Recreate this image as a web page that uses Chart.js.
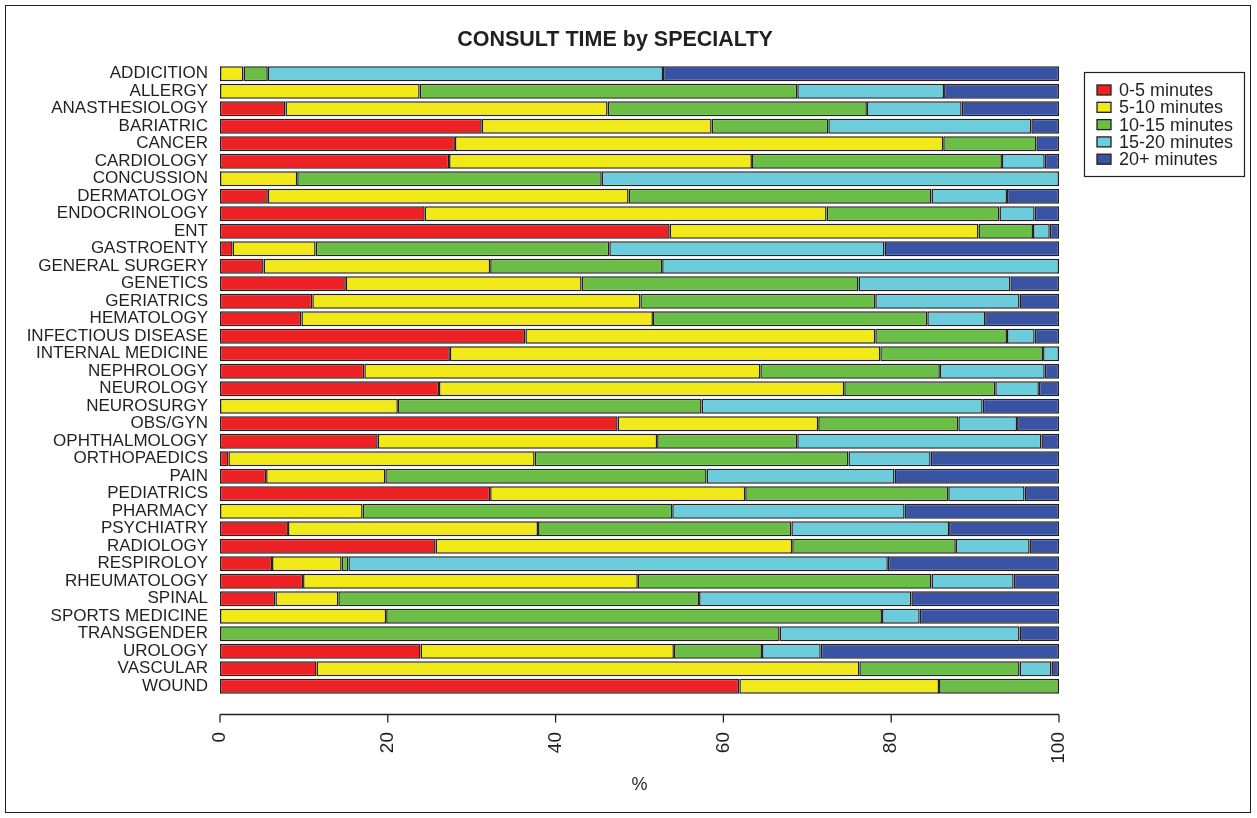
<!DOCTYPE html>
<html>
<head>
<meta charset="utf-8">
<script src="https://cdn.jsdelivr.net/npm/chart.js@4"></script>
<style>
html,body{margin:0;padding:0;background:#fff;}
#wrap{position:relative;width:1257px;height:818px;}
</style>
</head>
<body>
<div id="wrap"><canvas id="c" width="1257" height="818"></canvas></div>
<script>
const categories = ["ADDICITION","ALLERGY","ANASTHESIOLOGY","BARIATRIC","CANCER","CARDIOLOGY","CONCUSSION","DERMATOLOGY","ENDOCRINOLOGY","ENT","GASTROENTY","GENERAL SURGERY","GENETICS","GERIATRICS","HEMATOLOGY","INFECTIOUS DISEASE","INTERNAL MEDICINE","NEPHROLOGY","NEUROLOGY","NEUROSURGY","OBS/GYN","OPHTHALMOLOGY","ORTHOPAEDICS","PAIN","PEDIATRICS","PHARMACY","PSYCHIATRY","RADIOLOGY","RESPIROLOY","RHEUMATOLOGY","SPINAL","SPORTS MEDICINE","TRANSGENDER","UROLOGY","VASCULAR","WOUND"];
const seriesNames = ["0-5 minutes","5-10 minutes","10-15 minutes","15-20 minutes","20+ minutes"];
const min0to5   = [0,0,7.8,31.2,28.0,27.3,0,5.7,24.4,53.6,1.5,5.2,15.0,11.0,9.7,36.4,27.4,17.2,26.1,0,47.4,18.8,1.0,5.5,32.2,0,8.1,25.7,6.2,9.9,6.6,0,0,23.9,11.5,61.9];
const min5to10  = [2.8,23.8,38.4,27.4,58.2,36.1,9.2,43.0,47.9,36.8,9.9,27.0,28.1,39.1,41.9,41.7,51.3,47.2,48.3,21.2,23.9,33.3,36.5,14.2,30.4,17.0,29.8,42.5,8.3,39.9,7.5,19.8,0,30.2,64.7,23.8];
const min10to15 = [2.9,45.0,30.9,13.9,11.1,29.8,36.3,36.1,20.6,6.5,35.0,20.5,33.0,28.0,32.7,15.7,19.4,21.4,18.0,36.2,16.7,16.7,37.4,38.3,24.2,36.9,30.2,19.5,0.8,35.0,43.0,59.1,66.7,10.5,19.1,14.3];
const min15to20 = [47.1,17.5,11.3,24.2,0,5.1,54.5,9.0,4.2,2.0,32.8,47.3,18.1,17.2,6.9,3.3,1.9,12.5,5.2,33.5,7.0,29.1,9.8,22.4,9.1,27.7,18.8,8.8,64.3,9.8,25.3,4.5,28.6,7.0,3.8,0];
const min20plus = [47.2,13.7,11.6,3.3,2.7,1.7,0,6.2,2.9,1.1,20.8,0,5.8,4.7,8.8,2.9,0,1.7,2.4,9.1,5.0,2.1,15.3,19.6,4.1,18.4,13.1,3.5,20.4,5.4,17.6,16.6,4.7,28.4,0.9,0];
const xTicks = [0,20,40,60,80,100];
const colors = ["#ED2024","#F2EA18","#6ABD45","#6BCDDB","#3853A4"];
const ink = "#231F20";
const FONT = "'Liberation Sans', Arial, Helvetica, sans-serif";

const seriesData = [min0to5,min5to10,min10to15,min15to20,min20plus];
const datasets = seriesData.map((d,i)=>({
  label: seriesNames[i],
  data: d,
  backgroundColor: colors[i],
  borderColor: ink,
  borderWidth: 1.5,
  borderSkipped: false,
  barPercentage: 0.87,
  categoryPercentage: 1.0
}));

const decor = {
  id: 'decor',
  beforeDraw(chart){
    const ctx = chart.ctx;
    ctx.save();
    ctx.fillStyle = '#fff';
    ctx.fillRect(0,0,chart.width,chart.height);
    ctx.restore();
  },
  afterDraw(chart){
    const ctx = chart.ctx;
    const xs = chart.scales.x;
    const area = chart.chartArea;
    ctx.save();
    ctx.strokeStyle = ink; ctx.lineWidth = 1;
    ctx.strokeRect(5.5,5.5,1245,807);
    ctx.fillStyle = ink;
    ctx.font = "bold 21.5px " + FONT;
    ctx.textAlign = 'center'; ctx.textBaseline = 'middle';
    ctx.fillText("CONSULT TIME by SPECIALTY", 615, 40);
    const ay = Math.round(area.bottom + 19) + 0.5;
    const x0 = xs.getPixelForValue(xTicks[0]);
    const x1 = xs.getPixelForValue(xTicks[xTicks.length-1]);
    ctx.lineWidth = 1.3;
    ctx.beginPath(); ctx.moveTo(x0, ay); ctx.lineTo(x1, ay); ctx.stroke();
    xTicks.forEach(v=>{
      const px = xs.getPixelForValue(v);
      ctx.beginPath(); ctx.moveTo(px, ay); ctx.lineTo(px, ay+8); ctx.stroke();
    });
    ctx.font = "18px " + FONT;
    ctx.fillText("%", xs.getPixelForValue(50), 785);
    const lx = 1084.5, ly = 72.5, lw = 160, lh = 104;
    ctx.lineWidth = 1.2;
    ctx.strokeRect(lx, ly, lw, lh);
    ctx.textAlign = 'left';
    seriesNames.forEach((n,i)=>{
      const cy = 90 + i*17.3;
      ctx.fillStyle = colors[i];
      ctx.fillRect(1097, cy-5, 14, 10);
      ctx.strokeStyle = ink; ctx.lineWidth = 1.3;
      ctx.strokeRect(1097, cy-5, 14, 10);
      ctx.fillStyle = ink;
      ctx.fillText(n, 1119, cy+1);
    });
    ctx.restore();
  }
};

new Chart(document.getElementById('c'), {
  type: 'bar',
  data: { labels: categories, datasets },
  options: {
    indexAxis: 'y',
    responsive: false,
    animation: false,
    layout: { padding: { left: 0, right: 198, top: 65, bottom: 0 } },
    plugins: { legend: { display: false }, title: { display: false }, tooltip: { enabled: false } },
    scales: {
      x: {
        stacked: true, min: 0, max: 100,
        grid: { display: false, drawTicks: false },
        border: { display: false },
        afterBuildTicks(scale){ scale.ticks = xTicks.map(v=>({value:v})); },
        afterFit(scale){ scale.height = 123; },
        ticks: {
          autoSkip: false, minRotation: 90, maxRotation: 90, padding: 37,
          color: ink, font: { family: FONT, size: 19 }
        }
      },
      y: {
        stacked: true,
        grid: { display: false, drawTicks: false },
        border: { display: false },
        afterFit(scale){ scale.width = 220; },
        ticks: { autoSkip: false, padding: 12, color: ink, font: { family: FONT, size: 17 } }
      }
    }
  },
  plugins: [decor]
});
</script>
</body>
</html>
